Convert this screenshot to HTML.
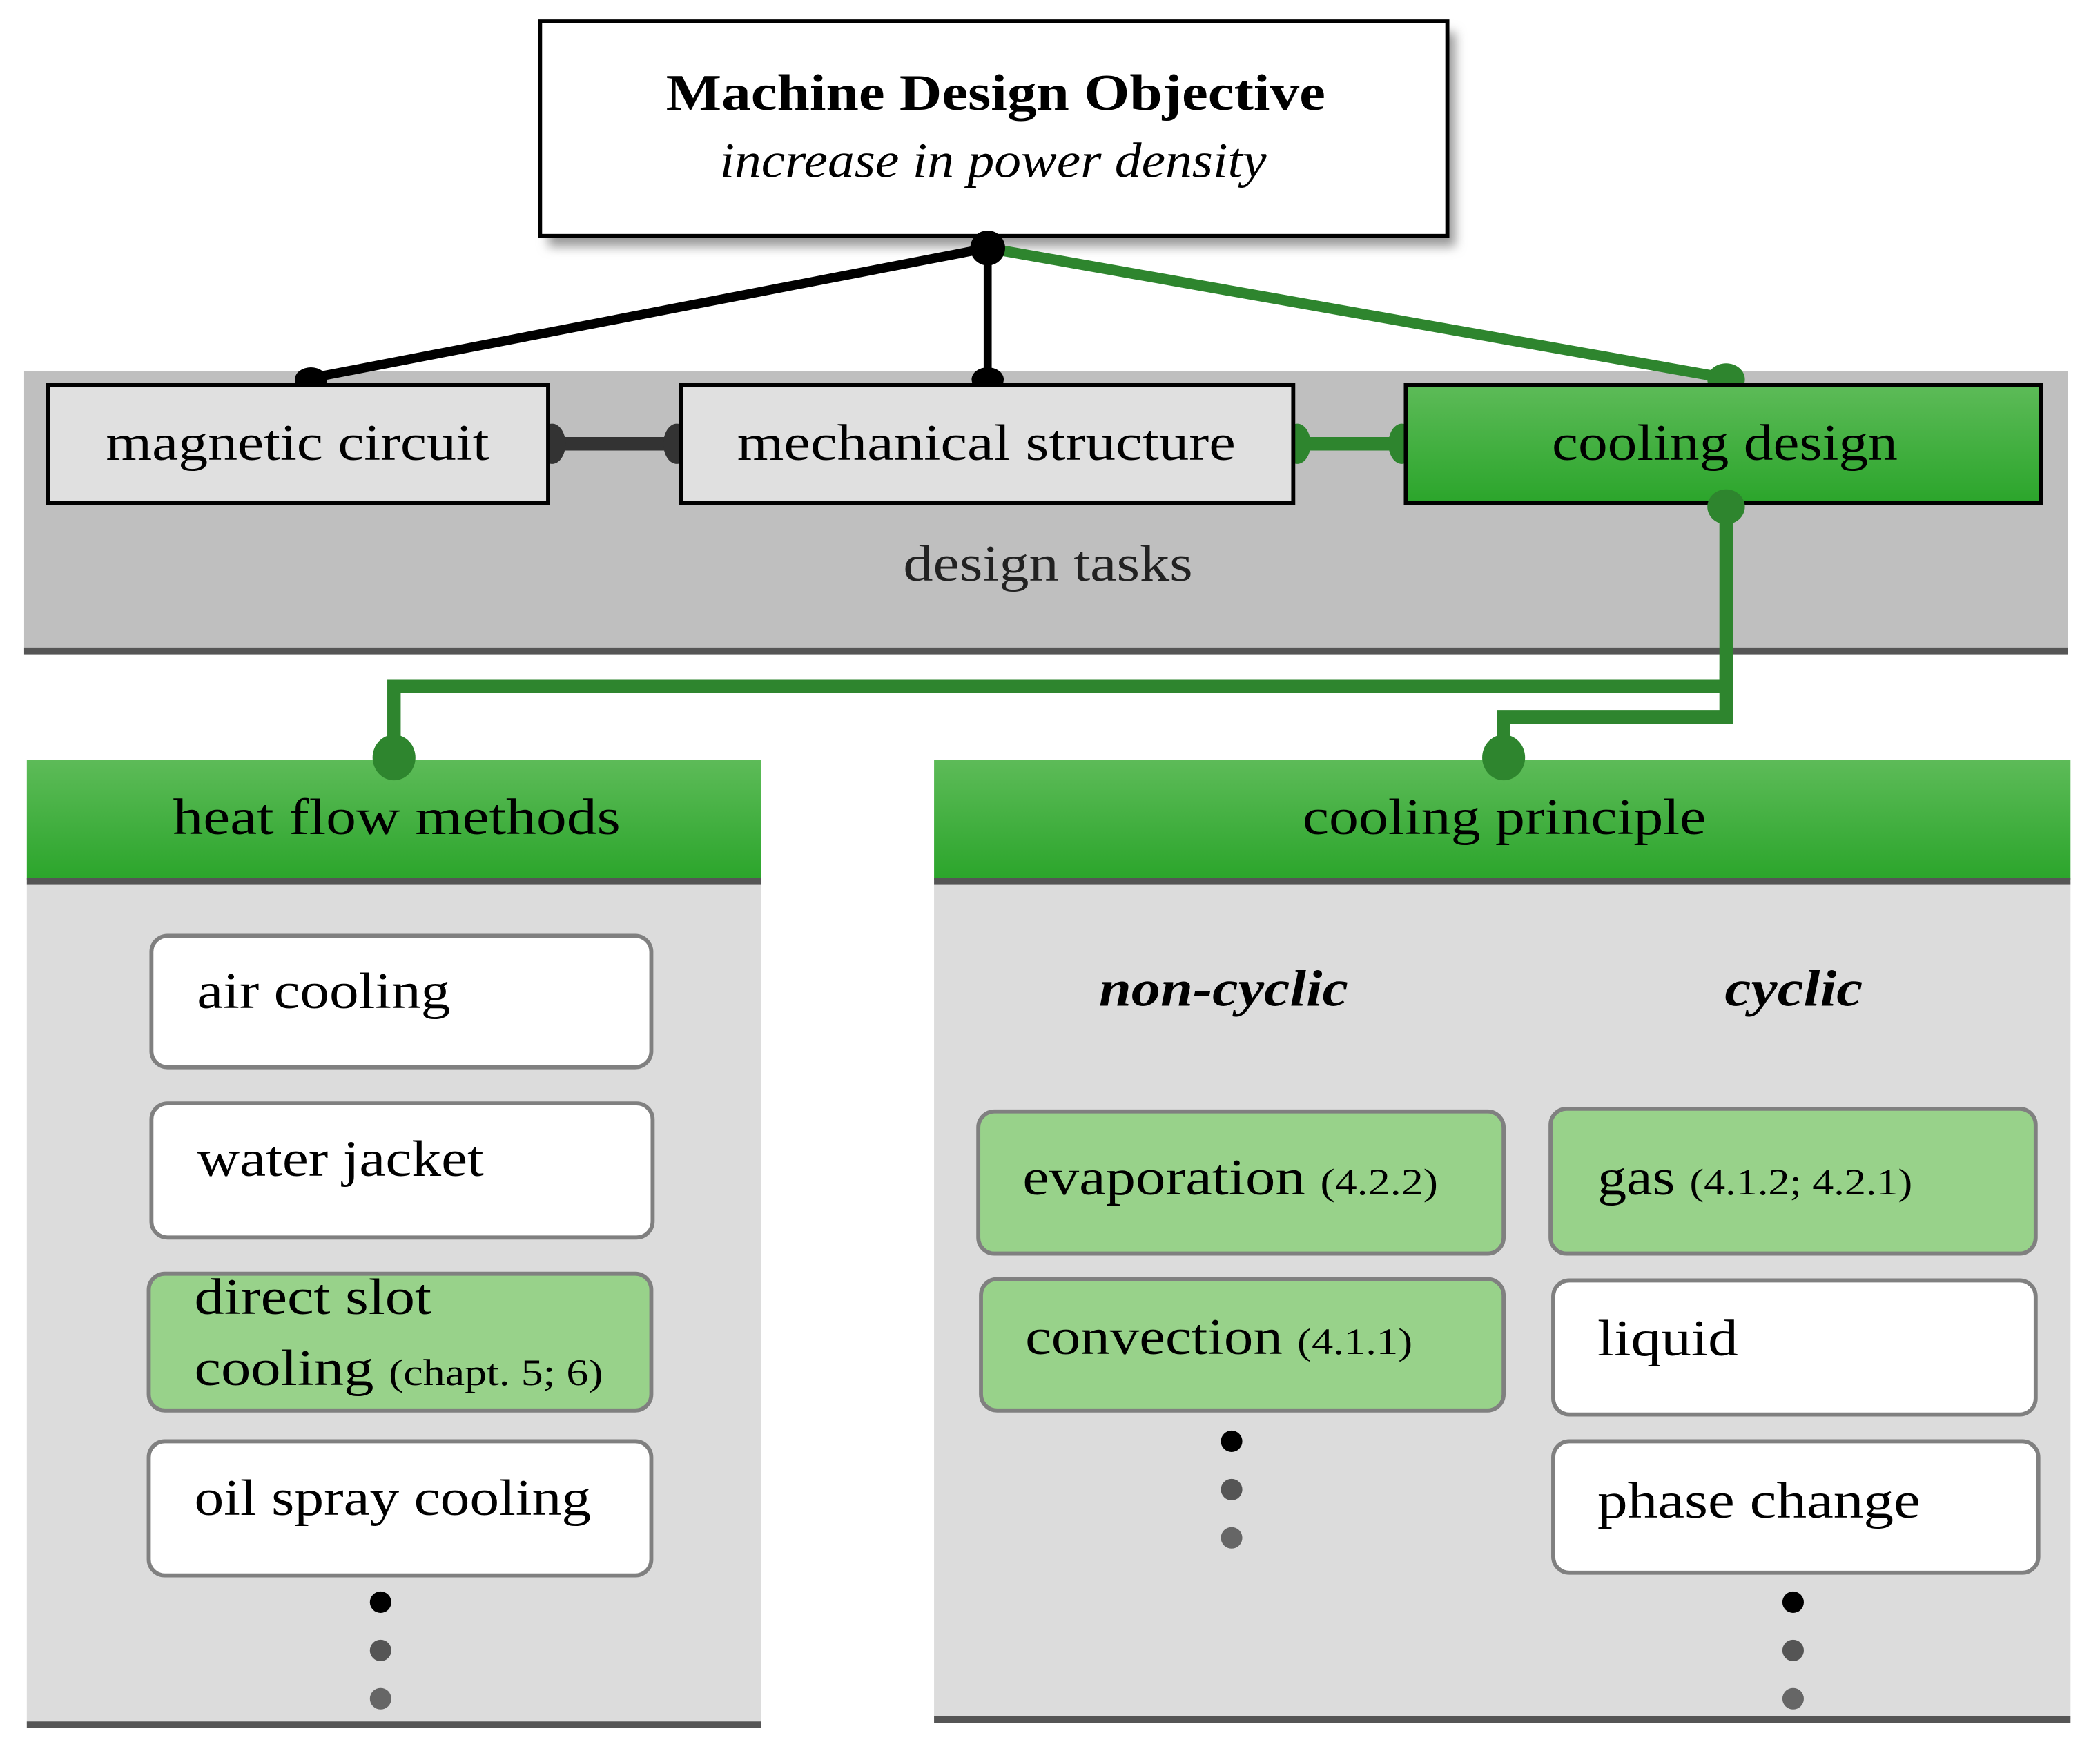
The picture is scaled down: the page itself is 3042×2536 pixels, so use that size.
<!DOCTYPE html>
<html><head><meta charset="utf-8"><style>
html,body{margin:0;padding:0;background:#fff;}
svg{display:block;}
text{font-family:"Liberation Serif",serif;}
</style></head><body>
<svg width="3042" height="2536" viewBox="0 0 1567 1306" preserveAspectRatio="none" xmlns="http://www.w3.org/2000/svg">
<defs>
<linearGradient id="g" x1="0" y1="0" x2="0" y2="1"><stop offset="0" stop-color="#5dbb58"/><stop offset="1" stop-color="#2ba52b"/></linearGradient>
<filter id="sh" x="-10%" y="-10%" width="130%" height="140%"><feGaussianBlur stdDeviation="4"/></filter>
</defs>
<rect x="409" y="24" width="677" height="160" fill="#999" filter="url(#sh)"/>
<rect x="403" y="16" width="677" height="160" fill="#fff" stroke="#000" stroke-width="3"/>
<text x="497" y="82" font-size="38" font-weight="bold" textLength="492" lengthAdjust="spacingAndGlyphs">Machine Design Objective</text>
<text x="537" y="132" font-size="37" font-style="italic" textLength="408" lengthAdjust="spacingAndGlyphs">increase in power density</text>
<rect x="18" y="277" width="1525" height="208" fill="#bfbfbf"/>
<rect x="18" y="483" width="1525" height="5" fill="#555"/>
<line x1="737" y1="185" x2="232" y2="282" stroke="#000" stroke-width="7"/>
<line x1="737" y1="185" x2="737" y2="282" stroke="#000" stroke-width="6"/>
<line x1="737" y1="185" x2="1288" y2="282" stroke="#2e852e" stroke-width="8"/>
<circle cx="737" cy="185" r="13" fill="#000"/>
<ellipse cx="232" cy="283" rx="12" ry="9" fill="#000"/>
<ellipse cx="737" cy="283" rx="12" ry="9" fill="#000"/>
<ellipse cx="1288" cy="283" rx="14" ry="12" fill="#2e852e"/>
<line x1="409" y1="331" x2="508" y2="331" stroke="#333" stroke-width="10"/>
<ellipse cx="412" cy="331" rx="10" ry="15" fill="#333"/><ellipse cx="505" cy="331" rx="10" ry="15" fill="#333"/>
<line x1="965" y1="331" x2="1049" y2="331" stroke="#2e852e" stroke-width="10"/>
<ellipse cx="968" cy="331" rx="10" ry="15" fill="#2e852e"/><ellipse cx="1046" cy="331" rx="10" ry="15" fill="#2e852e"/>
<rect x="36" y="287" width="373" height="88" fill="#e0e0e0" stroke="#000" stroke-width="3"/>
<text x="79" y="343" font-size="38" textLength="286" lengthAdjust="spacingAndGlyphs">magnetic circuit</text>
<rect x="508" y="287" width="457" height="88" fill="#e0e0e0" stroke="#000" stroke-width="3"/>
<text x="550" y="343" font-size="38" textLength="372" lengthAdjust="spacingAndGlyphs">mechanical structure</text>
<rect x="1049" y="287" width="474" height="88" fill="url(#g)" stroke="#000" stroke-width="3"/>
<text x="1158" y="343" font-size="38" textLength="258" lengthAdjust="spacingAndGlyphs">cooling design</text>
<text x="674" y="433" font-size="38" fill="#222" textLength="216" lengthAdjust="spacingAndGlyphs">design tasks</text>
<polyline points="1288,378 1288,512 294,512 294,560" fill="none" stroke="#2e852e" stroke-width="10"/>
<polyline points="1288,500 1288,535 1122,535 1122,560" fill="none" stroke="#2e852e" stroke-width="10"/>
<ellipse cx="1288" cy="378" rx="14" ry="13" fill="#2e852e"/>
<rect x="20" y="658" width="548" height="628" fill="#dcdcdc"/>
<rect x="20" y="1284" width="548" height="5" fill="#555"/>
<rect x="20" y="567" width="548" height="89" fill="url(#g)"/>
<rect x="20" y="655" width="548" height="5" fill="#555"/>
<text x="129" y="622" font-size="38" textLength="334" lengthAdjust="spacingAndGlyphs">heat flow methods</text>
<ellipse cx="294" cy="565" rx="16" ry="17" fill="#2e852e"/>
<rect x="697" y="658" width="848" height="624" fill="#dcdcdc"/>
<rect x="697" y="1280" width="848" height="5" fill="#555"/>
<rect x="697" y="567" width="848" height="89" fill="url(#g)"/>
<rect x="697" y="655" width="848" height="5" fill="#555"/>
<text x="972" y="622" font-size="38" textLength="301" lengthAdjust="spacingAndGlyphs">cooling principle</text>
<ellipse cx="1122" cy="565" rx="16" ry="17" fill="#2e852e"/>
<g stroke="#808080" stroke-width="3">
<rect x="113" y="698" width="373" height="98" rx="12" fill="#fff"/>
<rect x="113" y="823" width="374" height="100" rx="12" fill="#fff"/>
<rect x="111" y="950" width="375" height="102" rx="12" fill="#98d28a"/>
<rect x="111" y="1075" width="375" height="100" rx="12" fill="#fff"/>
<rect x="730" y="829" width="392" height="106" rx="12" fill="#98d28a"/>
<rect x="732" y="954" width="390" height="98" rx="12" fill="#98d28a"/>
<rect x="1157" y="827" width="362" height="108" rx="12" fill="#98d28a"/>
<rect x="1159" y="955" width="360" height="100" rx="12" fill="#fff"/>
<rect x="1159" y="1075" width="362" height="98" rx="12" fill="#fff"/>
</g>
<text x="147" y="752" font-size="38" textLength="189" lengthAdjust="spacingAndGlyphs">air cooling</text>
<text x="147" y="877" font-size="38" textLength="214" lengthAdjust="spacingAndGlyphs">water jacket</text>
<text x="145" y="980" font-size="38" textLength="177" lengthAdjust="spacingAndGlyphs">direct slot</text>
<text x="145" y="1033" font-size="38" textLength="305" lengthAdjust="spacingAndGlyphs">cooling <tspan font-size="28">(chapt. 5; 6)</tspan></text>
<text x="145" y="1130" font-size="38" textLength="296" lengthAdjust="spacingAndGlyphs">oil spray cooling</text>
<text x="820" y="750" font-size="38" font-style="italic" font-weight="bold" textLength="186" lengthAdjust="spacingAndGlyphs">non-cyclic</text>
<text x="1287" y="750" font-size="38" font-style="italic" font-weight="bold" textLength="103" lengthAdjust="spacingAndGlyphs">cyclic</text>
<text x="763" y="891" font-size="38" textLength="310" lengthAdjust="spacingAndGlyphs">evaporation <tspan font-size="28">(4.2.2)</tspan></text>
<text x="765" y="1010" font-size="38" textLength="289" lengthAdjust="spacingAndGlyphs">convection <tspan font-size="28">(4.1.1)</tspan></text>
<text x="1192" y="891" font-size="38" textLength="235" lengthAdjust="spacingAndGlyphs">gas <tspan font-size="28">(4.1.2; 4.2.1)</tspan></text>
<text x="1192" y="1011" font-size="38" textLength="105" lengthAdjust="spacingAndGlyphs">liquid</text>
<text x="1192" y="1132" font-size="38" textLength="241" lengthAdjust="spacingAndGlyphs">phase change</text>
<circle cx="284" cy="1195" r="8" fill="#000"/><circle cx="284" cy="1231" r="8" fill="#555"/><circle cx="284" cy="1267" r="8" fill="#666"/>
<circle cx="919" cy="1075" r="8" fill="#000"/><circle cx="919" cy="1111" r="8" fill="#555"/><circle cx="919" cy="1147" r="8" fill="#666"/>
<circle cx="1338" cy="1195" r="8" fill="#000"/><circle cx="1338" cy="1231" r="8" fill="#555"/><circle cx="1338" cy="1267" r="8" fill="#666"/>
</svg>
</body></html>
